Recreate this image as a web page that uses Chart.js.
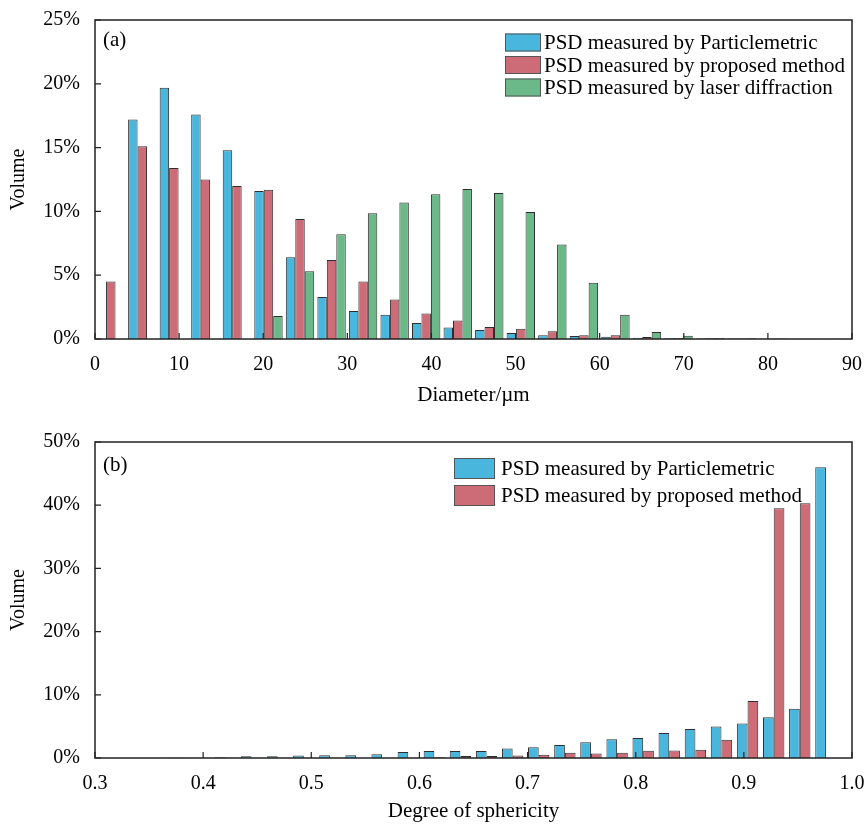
<!DOCTYPE html>
<html>
<head>
<meta charset="utf-8">
<script src="https://cdn.jsdelivr.net/npm/chart.js@4.4.1/dist/chart.umd.min.js"></script>
<style>
  body { margin: 0; background: #fff; }
  .panel { position: absolute; left: 0; width: 867px; height: 412px; }
</style>
</head>
<body>
<div class="panel" style="top:0"><canvas id="chartA" width="867" height="412"></canvas></div>
<div class="panel" style="top:412px"><canvas id="chartB" width="867" height="412"></canvas></div>
<script>
// (a) size distribution, bin centres in um
const diameter = [1.875, 5.625, 9.375, 13.125, 16.875, 20.625, 24.375, 28.125, 31.875, 35.625, 39.375, 43.125,
  46.875, 50.625, 54.375, 58.125, 61.875, 65.625, 69.375, 73.125, 76.875, 80.625, 84.375, 88.125];
const sizeParticlemetric = [0, 17.2, 19.7, 17.6, 14.8, 11.6, 6.4, 3.3, 2.2, 1.9, 1.25, 0.9,
  0.7, 0.47, 0.3, 0.23, 0.18, 0.1, 0.05, 0.04, 0.03, 0.02, 0.02, 0.01];
const sizeProposed = [4.5, 15.1, 13.4, 12.5, 12.0, 11.7, 9.4, 6.2, 4.5, 3.1, 2.0, 1.45,
  0.95, 0.8, 0.6, 0.3, 0.3, 0.15, 0.08, 0.05, 0.04, 0.03, 0.02, 0.01];
const sizeLaser = [0, 0, 0, 0, 0, 1.8, 5.3, 8.2, 9.85, 10.7, 11.35, 11.75,
  11.45, 9.95, 7.4, 4.4, 1.9, 0.55, 0.25, 0.08, 0.05, 0.03, 0.02, 0.01];
const diameterTicks = [0, 10, 20, 30, 40, 50, 60, 70, 80, 90];
const volumeTicksA = [0, 5, 10, 15, 20, 25];

// (b) sphericity distribution
const sphericity = [0.3724, 0.3966, 0.4207, 0.4448, 0.4690, 0.4931, 0.5172, 0.5414, 0.5655, 0.5897, 0.6138, 0.6379,
  0.6621, 0.6862, 0.7103, 0.7345, 0.7586, 0.7828, 0.8069, 0.8310, 0.8552, 0.8793, 0.9034, 0.9276, 0.9517, 0.9759];
const sphParticlemetric = [0.05, 0.05, 0.1, 0.27, 0.27, 0.4, 0.45, 0.45, 0.6, 0.95, 1.1, 1.1,
  1.1, 1.5, 1.7, 2.05, 2.5, 2.95, 3.15, 3.95, 4.6, 5.0, 5.45, 6.45, 7.8, 46.0];
const sphProposed = [0.03, 0.03, 0.03, 0.05, 0.05, 0.05, 0.05, 0.05, 0.05, 0.05, 0.1, 0.3,
  0.3, 0.4, 0.5, 0.85, 0.7, 0.85, 1.15, 1.2, 1.3, 2.9, 9.0, 39.5, 40.3, 0];
const sphericityTicks = [0.3, 0.4, 0.5, 0.6, 0.7, 0.8, 0.9, 1.0];
const volumeTicksB = [0, 10, 20, 30, 40, 50];

const seriesNames = ['PSD measured by Particlemetric', 'PSD measured by proposed method', 'PSD measured by laser diffraction'];

const FONT = 'Liberation Serif';
const BLUE = '#48b6dd', RED = '#cd6b76', GREEN = '#6bb888', EDGE = '#2e2e2e';

// box frame, inward ticks, panel tag and legend
const decor = {
  id: 'decor',
  afterDraw(chart, args, opts) {
    const { ctx, chartArea: a, scales } = chart;
    ctx.save();
    ctx.strokeStyle = '#222';
    ctx.lineWidth = 1.5;
    ctx.strokeRect(a.left, a.top, a.right - a.left, a.bottom - a.top);
    ctx.lineWidth = 1.2;
    ctx.beginPath();
    scales.x.ticks.forEach(t => {
      const p = scales.x.getPixelForValue(t.value);
      ctx.moveTo(p, a.bottom); ctx.lineTo(p, a.bottom - 6);
    });
    scales.y.ticks.forEach(t => {
      const p = scales.y.getPixelForValue(t.value);
      ctx.moveTo(a.left, p); ctx.lineTo(a.left + 6, p);
    });
    ctx.stroke();

    ctx.fillStyle = '#000';
    ctx.font = '21px "' + FONT + '"';
    ctx.textBaseline = 'middle';
    ctx.fillText(opts.tag, a.left + 8, a.top + opts.tagY);

    const lg = opts.legend;
    chart.data.datasets.forEach((ds, i) => {
      const y = lg.y + i * lg.rowH;
      ctx.fillStyle = ds.backgroundColor;
      ctx.fillRect(lg.x, y - lg.boxH / 2, lg.boxW, lg.boxH);
      ctx.strokeStyle = '#555';
      ctx.lineWidth = 1;
      ctx.strokeRect(lg.x + 0.5, y - lg.boxH / 2 + 0.5, lg.boxW - 1, lg.boxH - 1);
      ctx.fillStyle = '#000';
      ctx.fillText(ds.label, lg.x + lg.boxW + lg.gap, y + 1);
    });
    ctx.restore();
  }
};

function makeScales(o) {
  const tickFont = { family: FONT, size: 20 };
  return {
    x: {
      type: 'linear', min: o.xMin, max: o.xMax, offset: false,
      afterBuildTicks: s => { s.ticks = o.xTicks.map(v => ({ value: v })); },
      afterFit: s => { s.height = o.xHeight; s.paddingLeft = 0; s.paddingRight = 0; },
      grid: { display: false, drawTicks: false, offset: false },
      border: { display: false },
      ticks: { padding: 14, color: '#000', font: tickFont, maxRotation: 0, autoSkip: false, callback: o.xFmt },
      title: { display: true, text: o.xTitle, color: '#000', font: { family: FONT, size: 21 }, padding: { top: 0, bottom: o.titlePad } }
    },
    y: {
      min: 0, max: o.yMax,
      afterBuildTicks: s => { s.ticks = o.yTicks.map(v => ({ value: v })); },
      afterFit: s => { s.width = 95; s.paddingTop = 0; s.paddingBottom = 0; },
      grid: { display: false, drawTicks: false },
      border: { display: false },
      ticks: { padding: 15, color: '#000', font: tickFont, callback: v => v + '%' },
      title: { display: true, text: 'Volume', color: '#000', font: { family: FONT, size: 20 }, padding: { top: 7, bottom: 0 } }
    }
  };
}

function bars(xs, ys, label, color, catPct) {
  return {
    label: label,
    data: xs.map((x, i) => ({ x: x, y: ys[i] })),
    backgroundColor: color,
    borderColor: EDGE,
    borderWidth: 1,
    barPercentage: 1,
    categoryPercentage: catPct
  };
}

new Chart(document.getElementById('chartA'), {
  type: 'bar',
  data: {
    datasets: [
      bars(diameter, sizeParticlemetric, seriesNames[0], BLUE, 0.9),
      bars(diameter, sizeProposed, seriesNames[1], RED, 0.9),
      bars(diameter, sizeLaser, seriesNames[2], GREEN, 0.9)
    ]
  },
  options: {
    responsive: false,
    animation: false,
    layout: { padding: { top: 20, right: 15, left: 0, bottom: 0 } },
    scales: makeScales({
      xMin: 0, xMax: 90, xTicks: diameterTicks, xFmt: v => String(v), xTitle: 'Diameter/\u00b5m',
      xHeight: 73, titlePad: 4, yMax: 25, yTicks: volumeTicksA
    }),
    plugins: {
      legend: { display: false },
      tooltip: { enabled: false },
      decor: { tag: '(a)', tagY: 20, legend: { x: 505, y: 42.5, rowH: 22.5, boxW: 36, boxH: 18, gap: 3 } }
    }
  },
  plugins: [decor]
});

new Chart(document.getElementById('chartB'), {
  type: 'bar',
  data: {
    datasets: [
      bars(sphericity, sphParticlemetric, seriesNames[0], BLUE, 0.82),
      bars(sphericity, sphProposed, seriesNames[1], RED, 0.82)
    ]
  },
  options: {
    responsive: false,
    animation: false,
    layout: { padding: { top: 30, right: 15, left: 0, bottom: 0 } },
    scales: makeScales({
      xMin: 0.3, xMax: 1.0, xTicks: sphericityTicks, xFmt: v => v.toFixed(1), xTitle: 'Degree of sphericity',
      xHeight: 66, titlePad: 0, yMax: 50, yTicks: volumeTicksB
    }),
    plugins: {
      legend: { display: false },
      tooltip: { enabled: false },
      decor: { tag: '(b)', tagY: 23, legend: { x: 454, y: 56.5, rowH: 27, boxW: 41, boxH: 21, gap: 6 } }
    }
  },
  plugins: [decor]
});
</script>
</body>
</html>
